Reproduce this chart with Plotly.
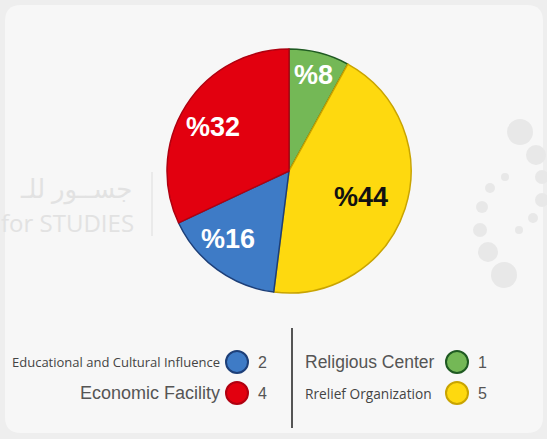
import math
import plotly.graph_objects as go

W, H = 547, 439

# Data
categories = ["Religious Center", "Rrelief Organization", "Educational and Cultural Influence", "Economic Facility"]
percents = [8, 44, 16, 32]
counts = [1, 5, 2, 4]
colors = ["#74b856", "#fed90f", "#3e7bc6", "#e2000f"]
edge_colors = ["#1f5a22", "#c9a400", "#1d3f78", "#b00010"]
text_colors = ["white", "#111111", "white", "white"]
label_radius = [0.81, 0.63, 0.75, 0.72]   # radial placement of slice labels (fraction of radius)
label_angle_shift = [0, 1.5, 6, -2]        # small angular nudges, degrees

fig = go.Figure()

def px(x):
    return x / W

def py(y):
    return 1 - y / H

# pie center ~ (289,171), radius ~122
cx, cy, r = 289, 171, 122
fig.add_trace(go.Pie(
    labels=categories,
    values=percents,
    sort=False,
    direction="clockwise",
    rotation=0,
    marker=dict(colors=colors, line=dict(color=edge_colors, width=1.5)),
    textinfo="none",
    hoverinfo="label+value",
    showlegend=False,
    domain=dict(x=[px(cx - r), px(cx + r)], y=[py(cy + r), py(cy - r)]),
))

shapes = []
# panel
x0, y0, x1, y1, rr = 5, 5, 543, 433, 16
path = (f"M {px(x0+rr)} {py(y0)} L {px(x1-rr)} {py(y0)} Q {px(x1)} {py(y0)} {px(x1)} {py(y0+rr)} "
        f"L {px(x1)} {py(y1-rr)} Q {px(x1)} {py(y1)} {px(x1-rr)} {py(y1)} "
        f"L {px(x0+rr)} {py(y1)} Q {px(x0)} {py(y1)} {px(x0)} {py(y1-rr)} "
        f"L {px(x0)} {py(y0+rr)} Q {px(x0)} {py(y0)} {px(x0+rr)} {py(y0)} Z")
shapes.append(dict(type="path", xref="paper", yref="paper", path=path,
                   fillcolor="#f7f7f7", line=dict(width=0), layer="below"))

# watermark decoration circles
dna = [(520,132,13),(536,155,10),(542,177,7),(542,200,7),(533,218,5),(519,230,4),
       (505,177,4),(490,188,5),(482,207,6),(480,230,7),(488,252,10),(504,275,13)]
for (x, y, rad) in dna:
    shapes.append(dict(type="circle", xref="paper", yref="paper",
                       x0=px(x-rad), x1=px(x+rad), y0=py(y+rad), y1=py(y-rad),
                       fillcolor="#e8e8e8", line=dict(width=0), layer="below"))
shapes.append(dict(type="line", xref="paper", yref="paper", x0=px(152), x1=px(152),
                   y0=py(172), y1=py(236), line=dict(color="#e6e6e6", width=1.5), layer="below"))

# legend divider
shapes.append(dict(type="line", xref="paper", yref="paper", x0=px(292), x1=px(292),
                   y0=py(328), y1=py(428), line=dict(color="#555555", width=2)))

annotations = [
    dict(text="جســور للـ", x=px(134), y=py(188), xanchor="right", yanchor="middle",
         font=dict(family="Noto Sans, DejaVu Sans", size=26, color="#e2e2e2")),
    dict(text="for STUDIES", x=px(136), y=py(222), xanchor="right", yanchor="middle",
         font=dict(family="Open Sans, sans-serif", size=24, color="#e2e2e2")),
]

# slice labels, positioned from cumulative percentages
total = sum(percents)
cum = 0
for i, v in enumerate(percents):
    mid = (cum + v / 2) / total * 360 + label_angle_shift[i]
    cum += v
    a = math.radians(mid)
    lx = cx + label_radius[i] * r * math.sin(a)
    ly = cy - label_radius[i] * r * math.cos(a)
    annotations.append(dict(text=f"%{v}", x=px(lx), y=py(ly), xanchor="center", yanchor="middle",
                            font=dict(family="Liberation Sans, Arial, sans-serif", size=27,
                                      color=text_colors[i], weight="bold")))

# custom legend: (index, circle x, row y, label font)
leg = [
    (2, 237, 362, dict(family="Open Sans, sans-serif", size=13, color="#444444")),
    (3, 237, 393, dict(family="Liberation Sans, Arial, sans-serif", size=18, color="#555555")),
    (0, 457, 362, dict(family="Liberation Sans, Arial, sans-serif", size=17.5, color="#555555")),
    (1, 457, 393, dict(family="Open Sans, sans-serif", size=13.7, color="#444444")),
]
for i, x, y, f in leg:
    rad = 11
    shapes.append(dict(type="circle", xref="paper", yref="paper",
                       x0=px(x-rad), x1=px(x+rad), y0=py(y+rad), y1=py(y-rad),
                       fillcolor=colors[i], line=dict(color=edge_colors[i], width=2)))
    if x < 292:
        annotations.append(dict(text=categories[i], x=px(x-rad-4), y=py(y), xanchor="right",
                                yanchor="middle", font=f))
    else:
        annotations.append(dict(text=categories[i], x=px(303), y=py(y), xanchor="left",
                                yanchor="middle", font=f))
    annotations.append(dict(text=str(counts[i]), x=px(x+rad+8), y=py(y), xanchor="left",
                            yanchor="middle",
                            font=dict(family="Liberation Sans, Arial, sans-serif", size=16, color="#555555")))

for a in annotations:
    a.update(xref="paper", yref="paper", showarrow=False)

fig.update_layout(
    width=W, height=H,
    margin=dict(l=0, r=0, t=0, b=0),
    paper_bgcolor="#eeeeee",
    plot_bgcolor="#eeeeee",
    shapes=shapes,
    annotations=annotations,
)

fig.write_html("out.html")
